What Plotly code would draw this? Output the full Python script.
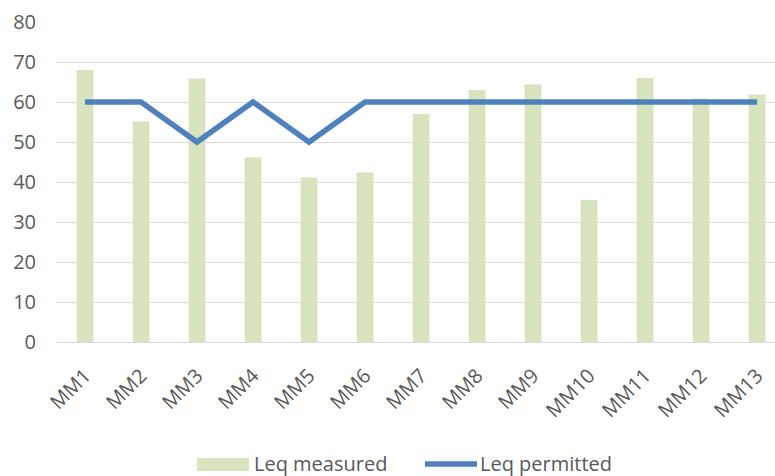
import plotly.graph_objects as go

categories = ["MM1", "MM2", "MM3", "MM4", "MM5", "MM6", "MM7", "MM8", "MM9", "MM10", "MM11", "MM12", "MM13"]
leq_measured = [68, 55.1, 65.9, 46.2, 41.1, 42.4, 57, 63, 64.4, 35.5, 66, 60.9, 61.9]
leq_permitted = [60, 60, 50, 60, 50, 60, 60, 60, 60, 60, 60, 60, 60]
y_ticks = [0, 10, 20, 30, 40, 50, 60, 70, 80]
series_names = ["Leq measured", "Leq permitted"]

FONT = "Open Sans"
TXT = "#595959"
BAR_C = "#D7E4BD"
LINE_C = "#4F81BD"

W, H = 775, 476
L, R, T, B = 57, 0, 22, 134
PW, PH = W - L - R, H - T - B

def px(x):
    return (x - L) / PW

def py(y):
    return (H - B - y) / PH

fig = go.Figure()
fig.add_trace(go.Bar(x=categories, y=leq_measured, name=series_names[0],
                     marker=dict(color=BAR_C, line=dict(width=0)), width=0.3, showlegend=False))
fig.add_trace(go.Scatter(x=categories, y=leq_permitted, name=series_names[1], mode="lines",
                         line=dict(color=LINE_C, width=5.5), showlegend=False))

# custom legend (wide swatches like the original)
ly = 463
fig.add_shape(type="rect", xref="paper", yref="paper", x0=px(197), x1=px(249), y0=py(471), y1=py(458),
              fillcolor=BAR_C, line=dict(width=0))
fig.add_shape(type="line", xref="paper", yref="paper", x0=px(425), x1=px(477), y0=py(ly + 1), y1=py(ly + 1),
              line=dict(color=LINE_C, width=5.5))
fig.add_annotation(xref="paper", yref="paper", x=px(253), y=py(ly), xanchor="left", yanchor="middle",
                   text=series_names[0], showarrow=False, borderpad=0,
                   font=dict(family=FONT, size=20, color=TXT))
fig.add_annotation(xref="paper", yref="paper", x=px(479), y=py(ly), xanchor="left", yanchor="middle",
                   text=series_names[1], showarrow=False, borderpad=0,
                   font=dict(family=FONT, size=20, color=TXT))

fig.update_layout(
    width=W, height=H,
    margin=dict(l=L, r=R, t=T, b=B, pad=0),
    paper_bgcolor="white", plot_bgcolor="white",
    font=dict(family=FONT, size=20, color=TXT),
    showlegend=False,
    xaxis=dict(type="category", range=[-0.5, 12.32], tickangle=-45, showgrid=False,
               showline=False, ticks="", ticklabelstandoff=17,
               tickfont=dict(family=FONT, size=20, color=TXT)),
    yaxis=dict(range=[0, 80], tickvals=y_ticks, showgrid=True, gridcolor="#D9D9D9", gridwidth=1.3,
               zeroline=True, zerolinecolor="#D9D9D9", zerolinewidth=1.3, showline=False,
               ticks="", ticklabelstandoff=20, tickfont=dict(family=FONT, size=20, color=TXT)),
)

fig.write_html("out.html", config={"displayModeBar": False},
               post_script="document.body.style.margin='0px';")
